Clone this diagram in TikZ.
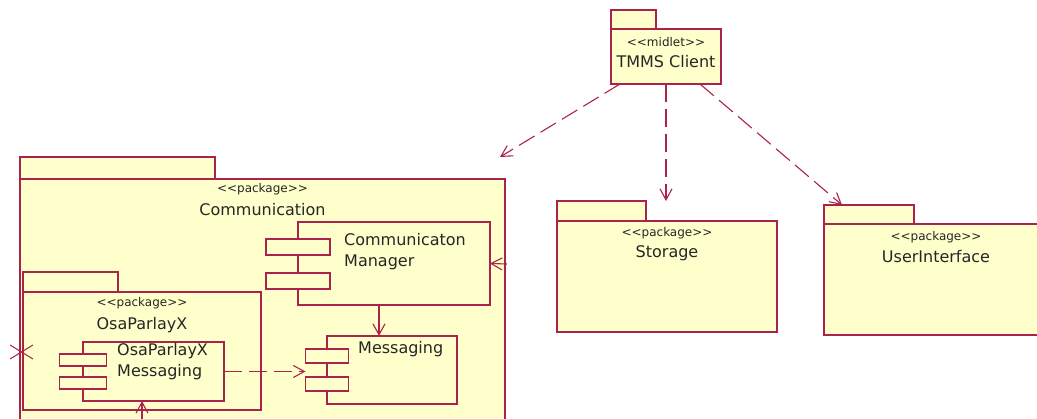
\documentclass[tikz,border=0pt]{standalone}
\usepackage{fontspec}
\setmainfont{DejaVu Sans}
\usepackage{tikz}
\usetikzlibrary{calc, positioning, arrows.meta}
\usepackage{xcolor}
\definecolor{umlLine}{RGB}{170, 35, 75}
\definecolor{umlFill}{RGB}{255, 255, 204}
\newcommand{\stereo}[1]{<\kern0pt<#1>\kern0pt>}

\begin{document}
\begin{tikzpicture}[x=1pt, y=-1pt,
  box/.style={draw=umlLine, fill=umlFill, line width=1.1pt, anchor=north west, inner sep=0pt, outer sep=0pt},
  stlabel/.style={font=\fontsize{12}{14}\selectfont, text=black!85, inner sep=0pt},
  nmlabel/.style={font=\fontsize{16}{21}\selectfont, text=black!85, align=left, inner sep=0pt},
  dep/.style={draw=umlLine, line width=1.1pt, dash pattern=on 18pt off 7pt, -{Straight Barb[length=11pt, width=12pt]}},
  use/.style={draw=umlLine, line width=1.1pt, -{Straight Barb[length=11pt, width=12pt]}}]
  \useasboundingbox (0,0) rectangle (1037,419);
  \fill[white] (0,0) rectangle (1037,419);
  \clip (0,0) rectangle (1037,419);

  % Packages: tab on top, body below
  \foreach \nm/\x/\y/\w/\h/\tw/\th in {client/611/29/110/55/45/19, comm/20/179/485/260/195/22,
      osa/23/292/238/118/95/20, stor/557/221/220/111/89/20, ui/824/224/224/111/90/19} {
    \node[box, minimum width=\tw, minimum height=\th, anchor=south west] (\nm tab) at (\x,\y) {};
    \node[box, minimum width=\w, minimum height=\h] (\nm) at (\x,\y) {};
  }

  % Package labels
  \node[stlabel] (clientst) at ([yshift=-13pt]client.north) {\stereo{midlet}};
  \node[nmlabel] (clientnm) at ([yshift=-33pt]client.north) {TMMS Client};
  \node[stlabel] (commst) at ([yshift=-10pt]comm.north) {\stereo{package}};
  \node[nmlabel] (commnm) at ([yshift=-31pt]comm.north) {Communication};
  \node[stlabel] (osast) at ([yshift=-11pt]osa.north) {\stereo{package}};
  \node[nmlabel] (osanm) at ([yshift=-33pt]osa.north) {OsaParlayX};
  \node[stlabel] (storst) at ([yshift=-12pt]stor.north) {\stereo{package}};
  \node[nmlabel] (stornm) at ([yshift=-32pt]stor.north) {Storage};
  \node[stlabel] (uist) at ([yshift=-13pt]ui.north) {\stereo{package}};
  \node[nmlabel] (uinm) at ([yshift=-33pt]ui.north) {UserInterface};

  % Components with their two ports
  \node[box, minimum width=192, minimum height=83] (mgr) at (298,222) {};
  \node[box, minimum width=141, minimum height=59] (osamsg) at (83,342) {};
  \node[box, minimum width=130, minimum height=68] (msg) at (327,336) {};
  \foreach \c/\pw/\ph/\ya/\yb in {mgr/64/16/17/51, osamsg/47/12/12/35, msg/43/14/13/41} {
    \node[box, minimum width=\pw, minimum height=\ph, anchor=north] (\c p1) at ([yshift=-\ya]\c.north west) {};
    \node[box, minimum width=\pw, minimum height=\ph, anchor=north] (\c p2) at ([yshift=-\yb]\c.north west) {};
  }
  \node[nmlabel, anchor=west] (mgrtxt) at (344,251.5) {Communicaton\\Manager};
  \node[nmlabel, anchor=west] (osamsgtxt) at (117,362) {OsaParlayX\\Messaging};
  \node[nmlabel, anchor=west] (msgtxt) at (358,349) {Messaging};

  % Dependencies of the client
  \coordinate (commhit) at (500,157);
  \draw[dep] ([xshift=9pt]client.south west) -- (commhit);
  \draw[dep] (client.south) -- (client.south |- stortab.north);
  \draw[dep] ([xshift=-21pt]client.south east) -- ([xshift=18pt]uitab.north west);

  % Connectors inside Communication
  \coordinate (mgrin) at (507,264);
  \draw[use] (mgrin) -- (mgr.east);
  \coordinate (mgrx) at (379,0);
  \draw[use] (mgr.south -| mgrx) -- (msg.north -| mgrx);
  \draw[dep] (osamsg.east) -- (osamsg.east -| msgp1.west);
  \coordinate (osain) at (142,425);
  \draw[use] (osain) -- (osain |- osamsg.south);

  % Cross on the left border
  \coordinate (cross) at (21,352);
  \draw[umlLine, line width=1pt] ($(cross)+(-11,-7)$) -- ($(cross)+(12,7)$);
  \draw[umlLine, line width=1pt] ($(cross)+(-11,7)$) -- ($(cross)+(12,-7)$);
\end{tikzpicture}
\end{document}
